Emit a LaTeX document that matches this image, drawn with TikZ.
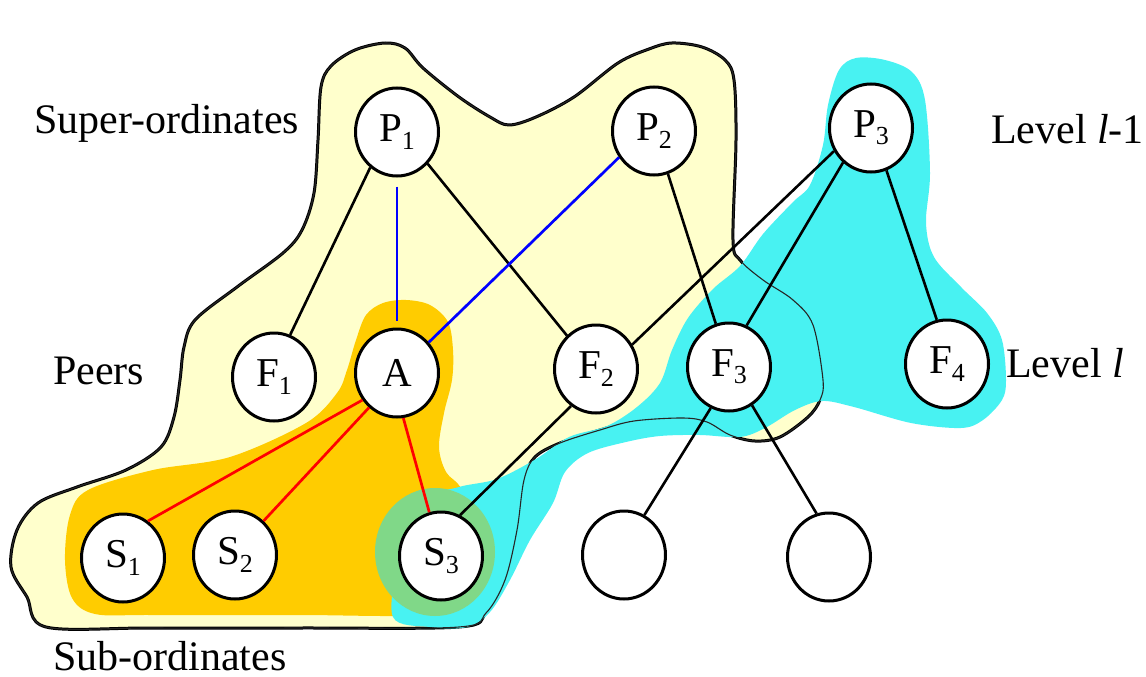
\documentclass[tikz,border=0pt]{standalone}
\usepackage{fontspec}
\setmainfont{Liberation Serif}
\usetikzlibrary{shapes.geometric}
\definecolor{paleyellow}{RGB}{255,255,204}
\definecolor{goldfill}{RGB}{255,204,0}
\definecolor{cyanfill}{RGB}{72,242,242}
\definecolor{greenfill}{RGB}{128,216,136}
\definecolor{edgeblue}{RGB}{0,0,255}
\definecolor{edgered}{RGB}{255,0,0}
\newcommand\mysub[1]{\raisebox{-0.18em}{\fontsize{26}{26}\selectfont #1}}
\begin{document}
\begin{tikzpicture}[x=1pt,y=-1pt,
  agent/.style={ellipse, draw=black, line width=3pt, fill=white, minimum width=83pt, minimum height=88pt, inner sep=0pt, font=\fontsize{41}{44}\selectfont},
  lbl/.style={inner sep=0pt, font=\fontsize{42}{48}\selectfont},
  link/.style={line width=2.6pt, draw=black},
  bluelink/.style={line width=2.7pt, draw=edgeblue},
  redlink/.style={line width=2.7pt, draw=edgered},
  blob/.style={line width=3pt, draw=black, line join=round}]
\useasboundingbox (0,0) rectangle (1146,677);
% yellow region
\path[fill=paleyellow, blob] plot[smooth cycle, tension=0.55] coordinates {(46,627) (27,597) (11,567) (17,530) (38,503) (77,487) (126,470) (161,447) (174,417) (180,380) (184,347) (195,320) (237,287) (283,253) (302,230) (314,193) (318,140) (321,87) (331,66) (355,50) (385,43) (405,48) (423,68) (459,97) (490,117) (509,125) (536,117) (574,97) (618,63) (649,49) (672,43) (702,47) (725,60) (734,80) (736,140) (733,240) (740,260) (763,280) (793,300) (813,325) (823,380) (820,400) (808,417) (780,437) (755,441) (730,435) (707,422) (683,418) (634,421) (600,430) (560,443) (535,457) (524,480) (517,530) (505,580) (486,613) (459,627) (300,628) (150,628)};
% orange region
\fill[goldfill] plot[smooth cycle, tension=0.55] coordinates {(356,340) (366,315) (383,303) (406,300) (430,305) (448,322) (453,350) (452,380) (444,413) (439,447) (446,472) (462,490) (480,540) (460,600) (420,615) (300,615) (150,615) (95,614) (72,598) (65,560) (70,515) (88,490) (153,470) (230,457) (306,423) (337,393) (347,370)};
% cyan region
\fill[cyanfill] plot[smooth cycle, tension=0.55] coordinates {(839,70) (856,58) (885,60) (912,72) (925,100) (930,173) (926,223) (934,257) (961,287) (987,313) (1002,340) (1006,380) (1002,400) (983,420) (961,428) (911,423) (854,407) (822,401) (795,410) (765,428) (740,437) (700,435) (660,436) (626,442) (588,453) (565,472) (553,503) (530,540) (510,580) (490,612) (467,627) (430,627) (393,617) (400,560) (430,500) (459,487) (497,479) (536,459) (569,437) (607,426) (637,407) (660,383) (672,350) (688,318) (713,289) (740,266) (763,234) (793,202) (810,185) (823,145) (828,105)};
% green halo around S3
\fill[greenfill] (435,552) ellipse [x radius=60pt, y radius=64pt];
% thin outline of the yellow region, visible through the cyan
\draw[line width=1.1pt, draw=black!85] plot[smooth cycle, tension=0.55] coordinates {(46,627) (27,597) (11,567) (17,530) (38,503) (77,487) (126,470) (161,447) (174,417) (180,380) (184,347) (195,320) (237,287) (283,253) (302,230) (314,193) (318,140) (321,87) (331,66) (355,50) (385,43) (405,48) (423,68) (459,97) (490,117) (509,125) (536,117) (574,97) (618,63) (649,49) (672,43) (702,47) (725,60) (734,80) (736,140) (733,240) (740,260) (763,280) (793,300) (813,325) (823,380) (820,400) (808,417) (780,437) (755,441) (730,435) (707,422) (683,418) (634,421) (600,430) (560,443) (535,457) (524,480) (517,530) (505,580) (486,613) (459,627) (300,628) (150,628)};
% nodes
\node[agent] (P1) at (397,132) {P\mysub{1}};
\node[agent] (P2) at (654,131) {P\mysub{2}};
\node[agent] (P3) at (871,128) {P\mysub{3}};
\node[agent] (F1) at (274,377) {F\mysub{1}};
\node[agent] (A) at (397,373) {A};
\node[agent] (F2) at (596,369) {F\mysub{2}};
\node[agent] (F3) at (729,367) {F\mysub{3}};
\node[agent] (F4) at (947,364) {F\mysub{4}};
\node[agent] (S1) at (123,558) {S\mysub{1}};
\node[agent] (S2) at (235,555) {S\mysub{2}};
\node[agent] (S3) at (441,556) {S\mysub{3}};
\node[agent] (E1) at (624,555) {};
\node[agent] (E2) at (829,557) {};
% labels
\node[lbl, anchor=base west] (lsup) at (34,133) {Super-ordinates};
\node[lbl, anchor=base west] (lpeer) at (53,384) {Peers};
\node[lbl, anchor=base west] (lsub) at (53,670) {Sub-ordinates};
\node[lbl, anchor=base west] (llm1) at (991,143) {Level \textit{l}-1};
\node[lbl, anchor=base west] (ll) at (1006,377) {Level \textit{l}};
% connectors
\draw[link] (P1.233) -- (F1.69);
\draw[link] (P1.314) -- (F2.131);
\draw[bluelink, shorten <=9pt, shorten >=7pt] (P1.270) -- (A.90);
\draw[bluelink] (P2.217) -- (A.44);
\draw[link] (P2.288) -- (F3.107);
\draw[link] (P3.212) -- (F2.34);
\draw[link] (P3.231) -- (F3.67);
\draw[link] (P3.290) -- (F4.103);
\draw[redlink] (A.218) -- (S1.56);
\draw[redlink] (A.231) -- (S2.50);
\draw[redlink] (A.278) -- (S3.105);
\draw[link] (F2.236) -- (S3.65);
\draw[link] (F3.246) -- (E1.63);
\draw[link] (F3.301) -- (E2.106);
\end{tikzpicture}
\end{document}
